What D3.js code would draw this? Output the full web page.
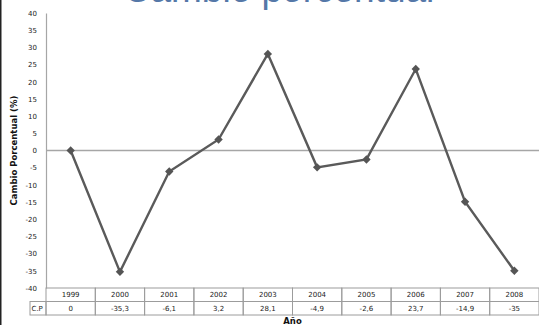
<!DOCTYPE html>
<html><head><meta charset="utf-8">
<script src="https://cdn.jsdelivr.net/npm/d3@7"></script>
<style>body{margin:0;background:#fff;}svg{display:block;}</style>
</head><body>
<script>
const years = ["1999","2000","2001","2002","2003","2004","2005","2006","2007","2008"];
const values = [0, -35.3, -6.1, 3.2, 28.1, -4.9, -2.6, 23.7, -14.9, -35];
const valueLabels = ["0","-35,3","-6,1","3,2","28,1","-4,9","-2,6","23,7","-14,9","-35"];
const yTicks = [40,35,30,25,20,15,10,5,0,-5,-10,-15,-20,-25,-30,-35,-40];
const rowLabel = "C.P";
const title = "Cambio porcentual";
const yTitle = "Cambio Porcentual (%)";
const xTitle = "Año";

(function(){
const W = 539, H = 325;
const mLeft = 46, mRight = 539, mTop = 13, mBottom = 288;
const svg = d3.select("body").append("svg").attr("width", W).attr("height", H);

const x = d3.scaleBand().domain(years).range([mLeft, mRight]);
const y = d3.scaleLinear().domain([-40, 40]).range([mBottom, mTop]);

svg.append("rect").attr("x",0).attr("y",0).attr("width",1.5).attr("height",H).attr("fill","#222");

svg.append("text").attr("x", 279).attr("y", 1.5).attr("text-anchor","middle")
  .attr("font-family","Liberation Sans, Arial, sans-serif").attr("font-size",37)
  .attr("fill","#5578a8").text(title);

const ff = "DejaVu Sans, Verdana, sans-serif";
const yAxis = d3.axisLeft(y).tickValues(yTicks).tickSize(0).tickPadding(9).tickFormat(d => String(d));
const ga = svg.append("g").attr("transform",`translate(${mLeft},0)`).call(yAxis);
ga.select(".domain").attr("stroke","#a6a6a6").attr("stroke-width",1.2);
ga.selectAll("text").attr("font-family",ff).attr("font-size",7).attr("fill","#222");

svg.append("line").attr("x1",mLeft).attr("x2",mRight).attr("y1",y(0)).attr("y2",y(0))
  .attr("stroke","#a6a6a6").attr("stroke-width",1.3);

const line = d3.line().x((d,i)=>x(years[i])+x.bandwidth()/2).y(d=>y(d));
svg.append("path").datum(values).attr("d",line).attr("fill","none")
  .attr("stroke","#5a5a5a").attr("stroke-width",2.4);
svg.selectAll(".pt").data(values).enter().append("path")
  .attr("transform",(d,i)=>`translate(${x(years[i])+x.bandwidth()/2},${y(d)})`)
  .attr("d", d3.symbol(d3.symbolDiamond2, 45)).attr("fill","#555");

const rowH = 13.5;
const tg = svg.append("g");
const bc = "#9c9c9c";
years.forEach((yr,i)=>{
  tg.append("rect").attr("x",x(yr)).attr("y",mBottom).attr("width",x.bandwidth()).attr("height",rowH)
    .attr("fill","none").attr("stroke",bc).attr("stroke-width",1);
  tg.append("text").attr("x",x(yr)+x.bandwidth()/2).attr("y",mBottom+rowH/2+2.6).attr("text-anchor","middle")
    .attr("font-family",ff).attr("font-size",7).attr("fill","#222").text(yr);
  tg.append("rect").attr("x",x(yr)).attr("y",mBottom+rowH).attr("width",x.bandwidth()).attr("height",rowH)
    .attr("fill","none").attr("stroke",bc).attr("stroke-width",1);
  tg.append("text").attr("x",x(yr)+x.bandwidth()/2).attr("y",mBottom+rowH*1.5+2.6).attr("text-anchor","middle")
    .attr("font-family",ff).attr("font-size",7).attr("fill","#222").text(valueLabels[i]);
});
tg.append("rect").attr("x",30).attr("y",mBottom+rowH).attr("width",mLeft-30).attr("height",rowH)
  .attr("fill","none").attr("stroke",bc).attr("stroke-width",1);
tg.append("text").attr("x",31.5).attr("y",mBottom+rowH*1.5+2.6)
  .attr("font-family",ff).attr("font-size",7).attr("fill","#222").text(rowLabel);

svg.append("text").attr("transform",`translate(17,${y(0)}) rotate(-90)`).attr("text-anchor","middle")
  .attr("font-family",ff).attr("font-size",8.5).attr("font-weight","bold")
  .attr("fill","#111").text(yTitle);
svg.append("text").attr("x",(mLeft+mRight)/2).attr("y",324).attr("text-anchor","middle")
  .attr("font-family",ff).attr("font-size",8.5).attr("font-weight","bold")
  .attr("fill","#111").text(xTitle);
})();
</script>
</body></html>
